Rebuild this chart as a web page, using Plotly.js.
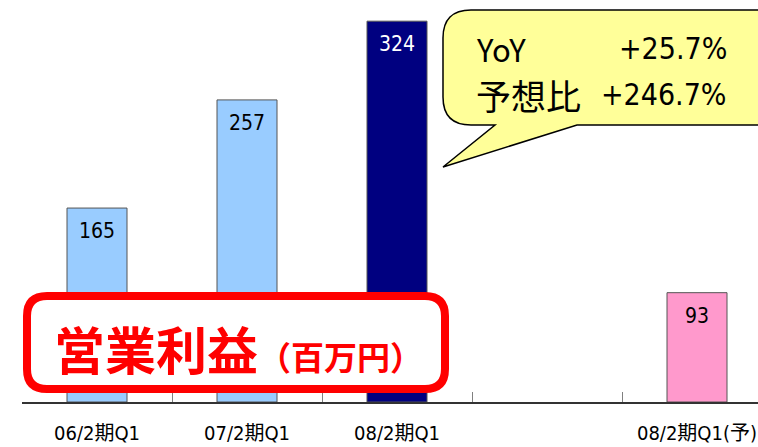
<!DOCTYPE html>
<html><head><meta charset="utf-8">
<script src="https://cdn.plot.ly/plotly-3.0.1.min.js"></script>
<style>html,body{margin:0;padding:0;background:#fff;}</style>
</head><body>
<div id="chart" style="width:758px;height:447px;"></div>
<script>
const categories = ["06/2期Q1", "07/2期Q1", "08/2期Q1", " ", "08/2期Q1(予)"];
const barCats = ["06/2期Q1", "07/2期Q1", "08/2期Q1", "08/2期Q1(予)"];
const values = [165, 257, 324, 93];
const barColors = ["#99CCFF", "#99CCFF", "#000080", "#FF99CC"];
const labelColors = ["#000000", "#000000", "#FFFFFF", "#000000"];
const bubbleLines = [["YoY", "+25.7%"], ["予想比", "+246.7%"]];
const boxTitle = "営業利益";
const boxUnit = "（百万円）";

const W = 758, H = 447, L = 22, B = 45, T = 0;
const plotW = W - L, plotH = H - B - T;
const px = x => (x - L) / plotW;
const py = y => (H - B - y) / plotH;
function P(x, y) { return px(x).toFixed(5) + "," + py(y).toFixed(5); }
function roundRect(x0, y0, x1, y1, r) {
  return "M" + P(x0 + r, y0) + " L" + P(x1 - r, y0) + " Q" + P(x1, y0) + " " + P(x1, y0 + r) +
    " L" + P(x1, y1 - r) + " Q" + P(x1, y1) + " " + P(x1 - r, y1) +
    " L" + P(x0 + r, y1) + " Q" + P(x0, y1) + " " + P(x0, y1 - r) +
    " L" + P(x0, y0 + r) + " Q" + P(x0, y0) + " " + P(x0 + r, y0) + " Z";
}
function bubble(x0, y0, x1, y1, r, ta, tb, tx, ty) {
  return "M" + P(x0 + r, y0) + " L" + P(x1 - r, y0) + " Q" + P(x1, y0) + " " + P(x1, y0 + r) +
    " L" + P(x1, y1 - r) + " Q" + P(x1, y1) + " " + P(x1 - r, y1) +
    " L" + P(ta, y1) + " L" + P(tx, ty) + " L" + P(tb, y1) +
    " L" + P(x0 + r, y1) + " Q" + P(x0, y1) + " " + P(x0, y1 - r) +
    " L" + P(x0, y0 + r) + " Q" + P(x0, y0) + " " + P(x0 + r, y0) + " Z";
}

const font = "Noto Sans CJK JP, DejaVu Sans, sans-serif";
const narrow = "DejaVu Sans Condensed, Noto Sans CJK JP, sans-serif";

const trace = {
  type: "bar",
  x: barCats,
  y: values,
  width: 0.4,
  marker: { color: barColors, line: { color: "#555555", width: 1 } },
  hoverinfo: "none"
};

const annotations = barCats.map((c, i) => ({
  x: c, y: values[i], xref: "x", yref: "y",
  text: String(values[i]), showarrow: false, yshift: -23, yanchor: "middle",
  font: { family: narrow, size: 21, color: labelColors[i] }
}));

bubbleLines.forEach((ln, i) => {
  const yy = i === 0 ? 49 : 95;
  const sz = i === 0 ? 31 : 35;
  annotations.push({ xref: "paper", yref: "paper", x: px(474), y: py(yy), xanchor: "left", yanchor: "middle",
    text: ln[0], showarrow: false, font: { family: font, size: sz, color: "#000" } });
  annotations.push({ xref: "paper", yref: "paper", x: px(729), y: py(yy), xanchor: "right", yanchor: "middle",
    text: ln[1], showarrow: false, font: { family: narrow, size: 30, color: "#000" } });
});

annotations.push({ xref: "paper", yref: "paper", x: px(52), y: py(348), xanchor: "left", yanchor: "middle",
  text: "<b>" + boxTitle + "</b><b><span style='font-size:33px'>" + boxUnit + "</span></b>",
  showarrow: false, font: { family: font, size: 51, color: "#FF0000" } });

const shapes = [
  { type: "path", xref: "paper", yref: "paper", layer: "above",
    path: roundRect(27, 296, 445, 389, 20),
    fillcolor: "#FFFFFF", line: { color: "#FF0000", width: 8 } },
  { type: "path", xref: "paper", yref: "paper", layer: "above",
    path: bubble(443, 10, 800, 125, 28, 577, 495, 443, 167),
    fillcolor: "#FFFF99", line: { color: "#000000", width: 1.5 } }
];

const layout = {
  width: W, height: H,
  margin: { l: L, r: 0, t: T, b: B, pad: 0 },
  paper_bgcolor: "#FFFFFF", plot_bgcolor: "#FFFFFF",
  showlegend: false,
  xaxis: {
    type: "category", categoryorder: "array", categoryarray: categories,
    range: [-0.5, -0.5 + plotW / 150],
    tickson: "boundaries", ticks: "inside", ticklen: 10, tickcolor: "#808080", tickwidth: 1,
    showline: true, linecolor: "#333333", linewidth: 1.5,
    showgrid: false, zeroline: false,
    ticklabelstandoff: 12,
    tickfont: { family: narrow, size: 20, color: "#000" },
    fixedrange: true
  },
  yaxis: {
    range: [0, 342], visible: false, showgrid: false, zeroline: false, fixedrange: true
  },
  annotations: annotations,
  shapes: shapes
};

Plotly.newPlot("chart", [trace], layout, { staticPlot: true, displayModeBar: false });
</script>
</body></html>
